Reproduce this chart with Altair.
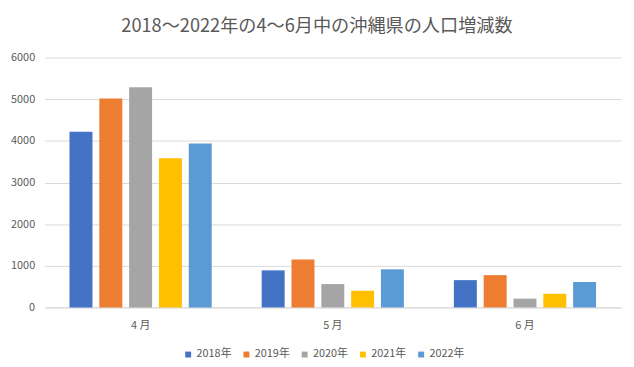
import altair as alt
import pandas as pd

months = ["4 月", "5 月", "6 月"]
years = ["2018年", "2019年", "2020年", "2021年", "2022年"]
values = {
    "2018年": [4220, 890, 655],
    "2019年": [5020, 1150, 775],
    "2020年": [5290, 560, 210],
    "2021年": [3580, 400, 330],
    "2022年": [3940, 915, 610],
}
colors = ["#4472C4", "#ED7D31", "#A5A5A5", "#FFC000", "#5B9BD5"]

rows = []
for y in years:
    for m, v in zip(months, values[y]):
        rows.append({"month": m, "year": y, "value": v})
df = pd.DataFrame(rows)

font = "Noto Sans CJK JP"

chart = alt.Chart(df).mark_bar().encode(
    x=alt.X("month:N", sort=months, title=None,
            scale=alt.Scale(paddingInner=0.26, paddingOuter=0.13),
            axis=alt.Axis(labelAngle=0, ticks=False, domain=True, domainColor="#d9d9d9",
                          labelColor="#595959", labelFontSize=11, labelFont=font, labelPadding=12)),
    xOffset=alt.XOffset("year:N", sort=years,
                        scale=alt.Scale(paddingInner=0.23, paddingOuter=0)),
    y=alt.Y("value:Q", title=None,
            scale=alt.Scale(domain=[0, 6000], nice=False),
            axis=alt.Axis(values=[0, 1000, 2000, 3000, 4000, 5000, 6000], format="d",
                          ticks=False, domain=False,
                          gridColor="#d9d9d9", labelColor="#595959", labelFontSize=11,
                          labelFont=font, labelPadding=10)),
    color=alt.Color("year:N", sort=years, scale=alt.Scale(domain=years, range=colors),
                    legend=alt.Legend(title=None, orient="none", legendX=140, legendY=295,
                                      direction="horizontal", symbolType="square", symbolSize=36,
                                      labelFont=font, labelFontSize=11, labelColor="#595959",
                                      labelOffset=3, columnPadding=9, symbolStrokeWidth=0)),
).properties(
    width=584, height=253,
    autosize=alt.AutoSizeParams(type="none"),
    padding={"left": 37, "top": 48, "right": 5, "bottom": 50},
    title=alt.Title("2018～2022年の4～6月中の沖縄県の人口増減数", fontSize=18.4, font=font,
                    fontWeight="normal", color="#595959", anchor="middle", dx=-16, offset=17),
).configure_view(stroke=None)

chart.save("out.html", embed_options={"renderer": "svg", "actions": False})
